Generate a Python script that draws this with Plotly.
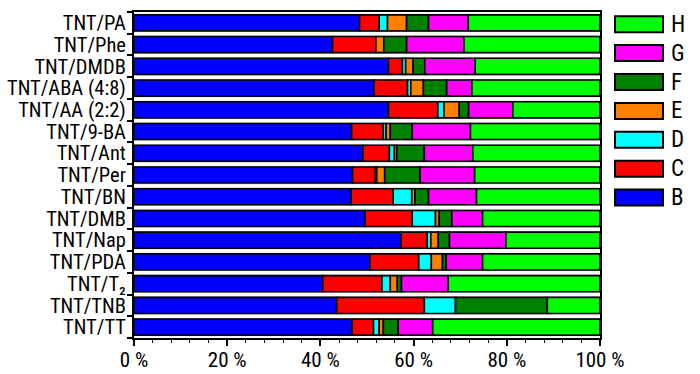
import numpy as np
import plotly.graph_objects as go

categories = ["TNT/PA", "TNT/Phe", "TNT/DMDB", "TNT/ABA (4:8)", "TNT/AA (2:2)",
              "TNT/9-BA", "TNT/Ant", "TNT/Per", "TNT/BN", "TNT/DMB", "TNT/Nap",
              "TNT/PDA", "TNT/T₂", "TNT/TNB", "TNT/TT"]

B = [48.4, 42.6, 54.6, 51.5, 54.6, 46.7, 49.1, 46.9, 46.6, 49.6, 57.3, 50.6, 40.5, 43.5, 46.8]
C = [4.2, 9.3, 3.0, 7.2, 10.6, 6.8, 5.7, 4.9, 9.0, 10.1, 5.6, 10.5, 12.7, 18.8, 4.6]
D = [1.8, 0.0, 0.7, 0.7, 1.3, 0.6, 1.1, 0.3, 4.0, 5.0, 0.8, 2.7, 1.8, 6.7, 1.2]
E = [4.1, 1.7, 1.6, 2.7, 3.3, 0.9, 0.5, 1.7, 0.7, 0.8, 1.6, 2.4, 1.5, 0.0, 0.9]
F = [4.7, 4.9, 2.5, 5.0, 2.0, 4.7, 5.9, 7.6, 2.9, 2.7, 2.4, 0.8, 0.9, 19.7, 3.2]
G = [8.5, 12.3, 10.8, 5.4, 9.5, 12.5, 10.4, 11.7, 10.3, 6.6, 12.1, 7.8, 10.0, 0.0, 7.4]
H = [28.3, 29.2, 26.8, 27.5, 18.7, 27.8, 27.3, 26.9, 26.5, 25.2, 20.2, 25.2, 32.6, 11.3, 35.9]

series_names = ["B", "C", "D", "E", "F", "G", "H"]
series_values = [B, C, D, E, F, G, H]
series_colors = ["#0000FF", "#FF0000", "#00FFFF", "#FF8000", "#008000", "#FF00FF", "#00FF00"]

xtick_vals = [0, 20, 40, 60, 80, 100]
xtick_text = ["0 %", "20 %", "40 %", "60 %", "80 %", "100 %"]

FONT = "Liberation Sans Narrow, Arial Narrow, Roboto Condensed, Arial, sans-serif"

fig = go.Figure()

# light grey underlay strips
totals = np.sum(np.array(series_values), axis=0)
fig.add_trace(go.Bar(y=categories, x=totals, orientation="h", width=0.84,
                     marker=dict(color="#c4c4c4", line=dict(width=0)),
                     showlegend=False, hoverinfo="skip"))

base = np.zeros(len(categories))
for name, vals, col in zip(series_names, series_values, series_colors):
    v = np.array(vals)
    fig.add_trace(go.Bar(y=categories, x=v, base=base.copy(), orientation="h",
                         name=name, width=0.74,
                         marker=dict(color=col, line=dict(color="black", width=1.6)),
                         showlegend=False))
    base = base + v

# manual legend (H at top ... B at bottom)
L, T, W, Hh = 134, 12, 466, 326
def px_x(p):
    return (p - L) / W
def px_y(p):
    return (T + Hh - p) / Hh

shapes = []
annotations = []
for i, (name, col) in enumerate(reversed(list(zip(series_names, series_colors)))):
    yc = 24.2 + 28.9 * i
    shapes.append(dict(type="rect", xref="paper", yref="paper",
                       x0=px_x(615), x1=px_x(663), y0=px_y(yc + 8), y1=px_y(yc - 8),
                       fillcolor=col, line=dict(color="black", width=2)))
    annotations.append(dict(xref="paper", yref="paper", x=px_x(669), y=px_y(yc),
                            text=name, showarrow=False, xanchor="left", yanchor="middle",
                            font=dict(family=FONT, size=23, color="black")))

fig.update_layout(
    width=700, height=374,
    margin=dict(l=L, r=700 - L - W, t=T, b=374 - T - Hh, autoexpand=False),
    paper_bgcolor="white", plot_bgcolor="white",
    barmode="overlay",
    shapes=shapes, annotations=annotations,
    font=dict(family=FONT, size=22, color="black"),
    xaxis=dict(range=[0, 100], tickmode="array", tickvals=xtick_vals, ticktext=xtick_text,
               ticks="outside", ticklen=6, tickwidth=1.5, tickcolor="black",
               ticklabelstandoff=-4,
               minor=dict(dtick=4, tick0=0, ticks="outside", ticklen=3, tickwidth=1.2, tickcolor="black"),
               showline=True, linecolor="black", linewidth=2, mirror=True,
               showgrid=False, zeroline=False, fixedrange=True, automargin=False,
               tickfont=dict(family=FONT, size=21, color="black")),
    yaxis=dict(autorange="reversed", type="category", tickson="boundaries",
               tickmode="array", tickvals=categories, ticktext=categories,
               ticks="outside", ticklen=5, tickwidth=1.5, tickcolor="black",
               ticklabelstandoff=2, automargin=False,
               showline=True, linecolor="black", linewidth=2, mirror=True,
               showgrid=False, zeroline=False,
               tickfont=dict(family=FONT, size=20.5, color="black")),
)

fig.write_html("out.html")
